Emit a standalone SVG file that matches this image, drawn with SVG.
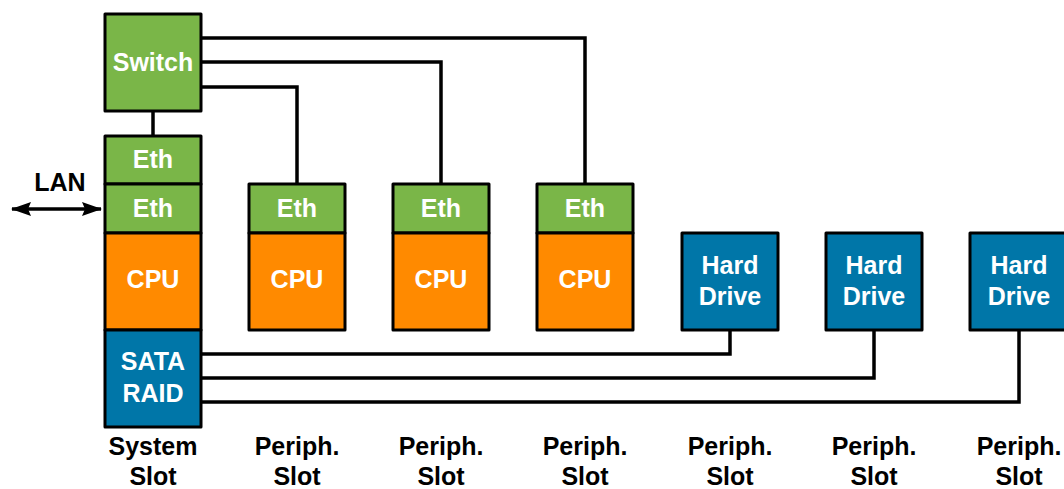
<svg xmlns="http://www.w3.org/2000/svg" width="1064" height="489" viewBox="0 0 1064 489">
<style>
.box{stroke:#000;stroke-width:3;stroke-linejoin:round}
.g{fill:#7AB648}.o{fill:#FF8A00}.b{fill:#0076A8}
.t{font-family:"Liberation Sans",Arial,sans-serif;font-weight:bold;font-size:25px;fill:#fff;text-anchor:middle}
.k{font-family:"Liberation Sans",Arial,sans-serif;font-weight:bold;font-size:25px;fill:#000;text-anchor:middle}
.w{fill:none;stroke:#000;stroke-width:3.5;stroke-linejoin:miter}
</style>
<defs>
<marker id="ah" viewBox="0 0 20 14" refX="19" refY="7" markerWidth="20" markerHeight="14" markerUnits="userSpaceOnUse" orient="auto-start-reverse">
<path d="M0,0 L20,7 L0,14 L3,7 Z" fill="#000"/>
</marker>
</defs>
<g id="connectors">
<path class="w" d="M153,111 V136"/>
<path class="w" d="M201,87 H297 V184"/>
<path class="w" d="M201,62 H441 V184"/>
<path class="w" d="M201,38 H585 V184"/>
<path class="w" d="M201,354 H730 V330"/>
<path class="w" d="M201,378 H874 V330"/>
<path class="w" d="M201,402 H1019 V330"/>
<path class="w" d="M12,209 H101" stroke-width="4" marker-start="url(#ah)" marker-end="url(#ah)"/>
</g>
<g id="lan"><text class="k" x="60" y="191">LAN</text></g>
<g id="switch"><rect class="box g" x="105" y="14" width="96" height="97"/><text class="t" x="153" y="71">Switch</text></g>
<g id="sys-eth1"><rect class="box g" x="105" y="136" width="96" height="48"/><text class="t" x="153" y="168">Eth</text></g>
<g id="sys-eth2"><rect class="box g" x="105" y="184" width="96" height="49"/><text class="t" x="153" y="217">Eth</text></g>
<g id="sys-cpu"><rect class="box o" x="105" y="233" width="96" height="97"/><text class="t" x="153" y="288">CPU</text></g>
<g id="sys-sata"><rect class="box b" x="105" y="330" width="96" height="97"/><text class="t" x="153" y="370">SATA</text><text class="t" x="153" y="402">RAID</text></g>
<g id="p1-eth"><rect class="box g" x="249" y="184" width="96" height="49"/><text class="t" x="297" y="217">Eth</text></g>
<g id="p1-cpu"><rect class="box o" x="249" y="233" width="96" height="97"/><text class="t" x="297" y="288">CPU</text></g>
<g id="p2-eth"><rect class="box g" x="393" y="184" width="96" height="49"/><text class="t" x="441" y="217">Eth</text></g>
<g id="p2-cpu"><rect class="box o" x="393" y="233" width="96" height="97"/><text class="t" x="441" y="288">CPU</text></g>
<g id="p3-eth"><rect class="box g" x="537" y="184" width="96" height="49"/><text class="t" x="585" y="217">Eth</text></g>
<g id="p3-cpu"><rect class="box o" x="537" y="233" width="96" height="97"/><text class="t" x="585" y="288">CPU</text></g>
<g id="hd1"><rect class="box b" x="682" y="233" width="96" height="97"/><text class="t" x="730" y="274">Hard</text><text class="t" x="730" y="305">Drive</text></g>
<g id="hd2"><rect class="box b" x="826" y="233" width="96" height="97"/><text class="t" x="874" y="274">Hard</text><text class="t" x="874" y="305">Drive</text></g>
<g id="hd3"><rect class="box b" x="970" y="233" width="96" height="97"/><text class="t" x="1019" y="274">Hard</text><text class="t" x="1019" y="305">Drive</text></g>
<g id="labels">
<text class="k" x="153" y="455">System</text><text class="k" x="153" y="485">Slot</text>
<text class="k" x="297" y="455">Periph.</text><text class="k" x="297" y="485">Slot</text>
<text class="k" x="441" y="455">Periph.</text><text class="k" x="441" y="485">Slot</text>
<text class="k" x="585" y="455">Periph.</text><text class="k" x="585" y="485">Slot</text>
<text class="k" x="730" y="455">Periph.</text><text class="k" x="730" y="485">Slot</text>
<text class="k" x="874" y="455">Periph.</text><text class="k" x="874" y="485">Slot</text>
<text class="k" x="1019" y="455">Periph.</text><text class="k" x="1019" y="485">Slot</text>
</g>
</svg>
